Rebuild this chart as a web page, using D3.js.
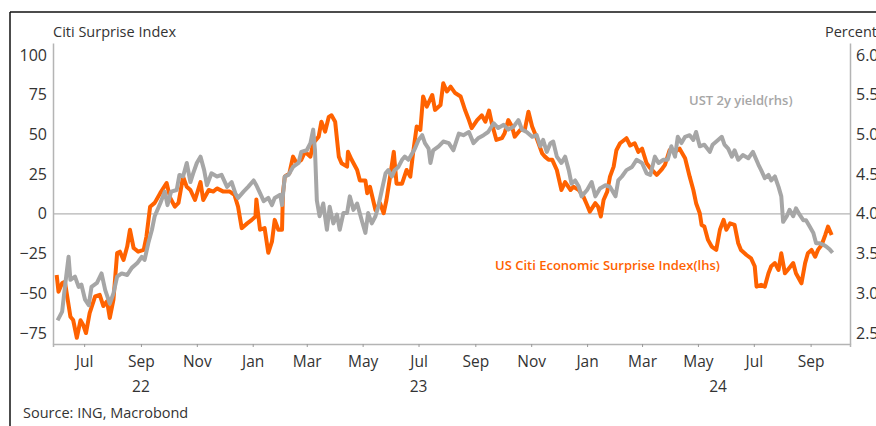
<!DOCTYPE html>
<html>
<head>
<meta charset="utf-8">
<script src="https://cdn.jsdelivr.net/npm/d3@7"></script>
<style>
  body { margin: 0; background: #fff; }
  #chart { width: 876px; height: 426px; }
  text { font-family: "Open Sans", "Noto Sans", sans-serif; fill: #333; }
</style>
</head>
<body>
<div id="chart"></div>
<script>
// US Citi Economic Surprise Index (lhs)
const citiDates = ["2022-06-01","2022-06-03","2022-06-07","2022-06-10","2022-06-16","2022-06-19","2022-06-23","2022-06-27","2022-06-30","2022-07-03",
  "2022-07-07","2022-07-13","2022-07-18","2022-07-22","2022-07-26","2022-07-29","2022-08-02","2022-08-06","2022-08-09","2022-08-13",
  "2022-08-17","2022-08-20","2022-08-24","2022-08-29","2022-09-04","2022-09-07","2022-09-11","2022-09-16","2022-09-22","2022-09-29",
  "2022-10-03","2022-10-08","2022-10-12","2022-10-17","2022-10-21","2022-10-25","2022-10-30","2022-11-05","2022-11-08","2022-11-14",
  "2022-11-19","2022-11-23","2022-11-30","2022-12-07","2022-12-12","2022-12-16","2022-12-20","2022-12-26","2022-12-31","2023-01-04",
  "2023-01-05","2023-01-09","2023-01-14","2023-01-18","2023-01-22","2023-01-25","2023-01-29","2023-02-02","2023-02-03","2023-02-05",
  "2023-02-10","2023-02-14","2023-02-18","2023-02-23","2023-02-27","2023-03-05","2023-03-08","2023-03-14","2023-03-17","2023-03-21",
  "2023-03-25","2023-03-28","2023-04-01","2023-04-05","2023-04-08","2023-04-14","2023-04-15","2023-04-19","2023-04-25","2023-04-28",
  "2023-05-04","2023-05-06","2023-05-09","2023-05-15","2023-05-20","2023-05-24","2023-05-27","2023-05-31","2023-06-04","2023-06-07",
  "2023-06-13","2023-06-18","2023-06-22","2023-06-25","2023-06-29","2023-07-03","2023-07-06","2023-07-10","2023-07-16","2023-07-19",
  "2023-07-25","2023-07-28","2023-08-01","2023-08-05","2023-08-10","2023-08-16","2023-08-21","2023-08-25","2023-08-28","2023-09-03",
  "2023-09-08","2023-09-12","2023-09-16","2023-09-19","2023-09-24","2023-09-30","2023-10-03","2023-10-07","2023-10-11","2023-10-14",
  "2023-10-20","2023-10-25","2023-10-29","2023-11-02","2023-11-05","2023-11-09","2023-11-13","2023-11-16","2023-11-20","2023-11-24",
  "2023-11-29","2023-12-04","2023-12-08","2023-12-14","2023-12-17","2023-12-23","2023-12-28","2024-01-01","2024-01-04","2024-01-10",
  "2024-01-13","2024-01-16","2024-01-19","2024-01-23","2024-01-26","2024-01-30","2024-02-02","2024-02-06","2024-02-13","2024-02-17",
  "2024-02-22","2024-02-26","2024-03-01","2024-03-06","2024-03-10","2024-03-17","2024-03-22","2024-03-26","2024-03-31","2024-04-06",
  "2024-04-11","2024-04-17","2024-04-22","2024-04-26","2024-04-29","2024-05-03","2024-05-05","2024-05-08","2024-05-12","2024-05-16",
  "2024-05-21","2024-05-25","2024-05-29","2024-06-01","2024-06-05","2024-06-10","2024-06-14","2024-06-17","2024-06-23","2024-06-28",
  "2024-07-02","2024-07-04","2024-07-09","2024-07-13","2024-07-17","2024-07-20","2024-07-24","2024-07-28","2024-07-31","2024-08-04",
  "2024-08-07","2024-08-13","2024-08-16","2024-08-22","2024-08-26","2024-08-29","2024-09-02","2024-09-06","2024-09-09","2024-09-13",
  "2024-09-17","2024-09-20","2024-09-24"];
const citiValues = [-38.5,-49,-43.5,-42.7,-64.7,-66.8,-78,-67,-70,-75,
  -62.5,-52,-51,-58,-55,-65.5,-54,-24.7,-23.8,-29,
  -20.6,-10,-21.5,-23.8,-22.7,-14.3,4.5,6.9,13,19.4,
  10,4.5,6.9,23.4,17,15,8.7,20,8.7,15,
  14,16,14,14,12,4.5,-9,-6,-3.8,-1.7,
  9,-10,-9,-24.5,-17.5,-3.8,-10,-10,13,23.4,
  25.5,36,31.8,34,39,36,44.4,48.6,58,51.7,
  61,62,58,36,31.8,29.7,39,34,27.6,21,
  21,13,17,2.4,6.7,0.4,8.7,23.4,39,19,
  19,27.6,23.4,38,55,52.8,73.8,67.5,74.8,65.4,
  68.5,82.2,77,80,76,73.8,65,59,53.9,59,
  62,58,65,57,46.5,47.6,50.7,59,55,48.6,
  52.8,52.8,64.3,55,50.7,44.4,38,36,34,34,
  27.6,15,20,15,17,15,10.8,5.6,1.4,6.7,
  4.5,-1.7,8.7,14,23.4,29.7,40,44.4,47.6,43,
  44.4,39,41,31.8,28.7,24.5,27.6,30.8,40,39,
  41,35,23.4,15,6.7,0.4,-7,-8,-16.4,-20.6,
  -22.7,-10,-3.8,-10,-6,-7,-18.5,-22.7,-25.9,-28,
  -33,-45.8,-44.7,-45.8,-37.4,-33,-31,-35.3,-24.8,-37.4,
  -35.3,-31,-37.4,-43.7,-31,-24.8,-22.7,-27,-22.7,-19.6,
  -13.3,-8,-13.3];

// UST 2y yield, percent (rhs)
const ustDates = ["2022-06-02","2022-06-07","2022-06-10","2022-06-14","2022-06-16","2022-06-21","2022-06-25","2022-06-28","2022-07-02","2022-07-06",
  "2022-07-09","2022-07-15","2022-07-20","2022-07-24","2022-07-29","2022-08-02","2022-08-06","2022-08-11","2022-08-17","2022-08-22",
  "2022-08-28","2022-09-02","2022-09-05","2022-09-09","2022-09-13","2022-09-16","2022-09-22","2022-09-27","2022-09-30","2022-10-04",
  "2022-10-10","2022-10-13","2022-10-17","2022-10-21","2022-10-25","2022-10-28","2022-11-01","2022-11-05","2022-11-09","2022-11-12",
  "2022-11-17","2022-11-23","2022-11-28","2022-12-04","2022-12-09","2022-12-13","2022-12-16","2022-12-22","2022-12-27","2023-01-02",
  "2023-01-05","2023-01-09","2023-01-13","2023-01-18","2023-01-22","2023-01-25","2023-01-31","2023-02-02","2023-02-05","2023-02-09",
  "2023-02-14","2023-02-20","2023-02-23","2023-03-01","2023-03-05","2023-03-08","2023-03-10","2023-03-12","2023-03-15","2023-03-19",
  "2023-03-23","2023-03-26","2023-03-30","2023-04-03","2023-04-06","2023-04-10","2023-04-14","2023-04-17","2023-04-21","2023-04-25",
  "2023-04-30","2023-05-04","2023-05-07","2023-05-11","2023-05-15","2023-05-18","2023-05-22","2023-05-26","2023-05-29","2023-06-02",
  "2023-06-05","2023-06-09","2023-06-13","2023-06-16","2023-06-20","2023-06-24","2023-06-27","2023-07-01","2023-07-05","2023-07-08",
  "2023-07-12","2023-07-14","2023-07-17","2023-07-23","2023-07-28","2023-08-03","2023-08-08","2023-08-14","2023-08-19","2023-08-25",
  "2023-08-30","2023-09-04","2023-09-10","2023-09-15","2023-09-21","2023-09-26","2023-10-02","2023-10-07","2023-10-13","2023-10-18",
  "2023-10-22","2023-10-27","2023-11-02","2023-11-07","2023-11-11","2023-11-14","2023-11-18","2023-11-22","2023-11-25","2023-11-29",
  "2023-12-04","2023-12-08","2023-12-12","2023-12-15","2023-12-19","2023-12-23","2023-12-26","2024-01-01","2024-01-06","2024-01-10",
  "2024-01-15","2024-01-21","2024-01-26","2024-02-01","2024-02-04","2024-02-08","2024-02-13","2024-02-19","2024-02-24","2024-03-01",
  "2024-03-06","2024-03-10","2024-03-15","2024-03-19","2024-03-24","2024-03-29","2024-04-02","2024-04-06","2024-04-09","2024-04-13",
  "2024-04-17","2024-04-22","2024-04-26","2024-04-29","2024-05-03","2024-05-08","2024-05-14","2024-05-17","2024-05-23","2024-05-27",
  "2024-05-30","2024-06-03","2024-06-07","2024-06-10","2024-06-14","2024-06-19","2024-06-25","2024-06-30","2024-07-06","2024-07-09",
  "2024-07-13","2024-07-17","2024-07-20","2024-07-24","2024-07-28","2024-07-31","2024-08-02","2024-08-06","2024-08-09","2024-08-13",
  "2024-08-16","2024-08-20","2024-08-24","2024-08-27","2024-08-31","2024-09-04","2024-09-07","2024-09-11","2024-09-15","2024-09-18",
  "2024-09-22","2024-09-25"];
const ustValues = [2.66,2.77,3.08,3.46,3.17,3.21,3.08,3.11,2.92,2.85,
  3.08,3.13,3.25,3.04,2.87,3.0,3.21,3.25,3.23,3.32,
  3.38,3.46,3.42,3.63,3.8,3.97,4.13,4.28,4.11,4.28,
  4.3,4.49,4.47,4.64,4.4,4.51,4.64,4.72,4.55,4.36,
  4.51,4.47,4.49,4.34,4.4,4.26,4.2,4.28,4.34,4.42,
  4.36,4.26,4.16,4.2,4.11,4.2,4.24,4.11,4.47,4.49,
  4.59,4.64,4.78,4.8,4.89,5.06,4.8,4.17,3.97,4.13,
  3.8,4.09,3.88,3.99,3.8,4.01,4.01,4.22,4.05,4.13,
  3.92,3.76,4.01,3.88,3.97,4.09,4.3,4.51,4.55,4.47,
  4.55,4.59,4.68,4.72,4.68,4.76,4.82,4.93,4.99,4.89,
  4.82,4.64,4.8,4.85,4.91,4.89,4.8,5.01,4.99,5.03,
  4.89,4.95,4.99,5.03,5.14,5.08,5.12,5.06,5.1,5.18,
  5.06,5.03,4.97,4.99,4.85,4.93,4.78,4.89,4.91,4.72,
  4.64,4.72,4.55,4.38,4.42,4.34,4.22,4.3,4.4,4.22,
  4.32,4.36,4.34,4.22,4.42,4.47,4.55,4.59,4.68,4.64,
  4.51,4.49,4.72,4.64,4.68,4.68,4.85,4.72,4.97,4.89,
  4.97,4.99,4.93,5.03,4.85,4.87,4.78,4.87,4.93,4.97,
  4.87,4.82,4.72,4.8,4.68,4.74,4.7,4.78,4.62,4.55,
  4.45,4.49,4.42,4.47,4.34,4.22,3.9,3.97,4.05,3.97,
  4.07,3.99,3.92,3.92,3.84,3.76,3.63,3.63,3.61,3.59,
  3.55,3.51];

const leftTicks = [-75, -50, -25, 0, 25, 50, 75, 100];
const rightTicks = [2.5, 3.0, 3.5, 4.0, 4.5, 5.0, 5.5, 6.0];
const yearLabels = [["2022-09-01", "22"], ["2023-07-01", "23"], ["2024-05-23", "24"]];

const parse = d3.timeParse("%Y-%m-%d");
const citi = citiDates.map((d, i) => ({date: parse(d), value: citiValues[i]}));
const ust = ustDates.map((d, i) => ({date: parse(d), value: ustValues[i]}));

const W = 876, H = 426;
const margin = {top: 43, right: 26, bottom: 82, left: 53};

const svg = d3.select("#chart").append("svg")
    .attr("width", W)
    .attr("height", H);

// frame lines (top and left)
svg.append("line").attr("x1", 10).attr("x2", W).attr("y1", 12).attr("y2", 12)
    .attr("stroke", "#111").attr("stroke-width", 1.5);
svg.append("line").attr("x1", 10).attr("x2", 10).attr("y1", 12).attr("y2", H)
    .attr("stroke", "#111").attr("stroke-width", 1.5);

const x = d3.scaleTime()
    .domain([parse("2022-05-28"), parse("2024-10-14")])
    .range([margin.left, W - margin.right]);

// lhs: -81.9 .. 107.5, rhs is lhs/50 + 4
const yL = d3.scaleLinear().domain([-81.9, 107.5]).range([H - margin.bottom, margin.top]);
const yR = d3.scaleLinear().domain([4 - 81.9 / 50, 4 + 107.5 / 50]).range([H - margin.bottom, margin.top]);

const axisColor = "#b4b4b4";
const plotBottom = H - margin.bottom;

// zero line
svg.append("line")
    .attr("x1", margin.left).attr("x2", W - margin.right)
    .attr("y1", yL(0)).attr("y2", yL(0))
    .attr("stroke", axisColor).attr("stroke-width", 1.2);

// left axis
const gL = svg.append("g")
    .attr("transform", `translate(${margin.left},0)`)
    .call(d3.axisLeft(yL).tickValues(leftTicks).tickSize(0).tickPadding(6));
gL.select(".domain").attr("stroke", axisColor).attr("stroke-width", 1.5);
gL.selectAll("text").attr("font-size", 16).attr("fill", "#333");

// right axis
const gR = svg.append("g")
    .attr("transform", `translate(${W - margin.right},0)`)
    .call(d3.axisRight(yR).tickValues(rightTicks).tickFormat(d3.format(".1f")).tickSize(0).tickPadding(6));
gR.select(".domain").attr("stroke", axisColor).attr("stroke-width", 1.5);
gR.selectAll("text").attr("font-size", 16).attr("fill", "#333");

// bottom axis
const gX = svg.append("g")
    .attr("transform", `translate(0,${plotBottom})`)
    .call(d3.axisBottom(x)
        .ticks(d3.timeMonth.every(2))
        .tickFormat(d3.timeFormat("%b"))
        .tickSize(3)
        .tickPadding(9));
gX.select(".domain").attr("stroke", axisColor).attr("stroke-width", 1.5);
gX.selectAll(".tick line").attr("stroke", "#999");
gX.selectAll("text").attr("font-size", 15.5).attr("fill", "#333");

svg.selectAll(".year-label")
    .data(yearLabels)
    .enter()
    .append("text")
    .attr("class", "year-label")
    .attr("x", d => x(parse(d[0])))
    .attr("y", 392)
    .attr("text-anchor", "middle")
    .attr("font-size", 15.5)
    .text(d => d[1]);

// lines
const lineL = d3.line().x(d => x(d.date)).y(d => yL(d.value));
const lineR = d3.line().x(d => x(d.date)).y(d => yR(d.value));

svg.append("path")
    .datum(citi)
    .attr("fill", "none")
    .attr("stroke", "#ff6200")
    .attr("stroke-width", 4)
    .attr("stroke-linejoin", "round")
    .attr("d", lineL);

svg.append("path")
    .datum(ust)
    .attr("fill", "none")
    .attr("stroke", "#a6a6a6")
    .attr("stroke-width", 4)
    .attr("stroke-linejoin", "round")
    .attr("d", lineR);

// titles
svg.append("text")
    .attr("x", margin.left)
    .attr("y", 37)
    .attr("font-size", 14.5)
    .text("Citi Surprise Index");

svg.append("text")
    .attr("x", 825)
    .attr("y", 37)
    .attr("font-size", 14.5)
    .text("Percent");

// series labels
svg.append("text")
    .attr("x", 689)
    .attr("y", 105)
    .attr("font-size", 13)
    .attr("font-weight", 600)
    .style("fill", "#a6a6a6")
    .text("UST 2y yield(rhs)");

svg.append("text")
    .attr("x", 495)
    .attr("y", 270)
    .attr("font-size", 13)
    .attr("font-weight", 600)
    .style("fill", "#ff6200")
    .text("US Citi Economic Surprise Index(lhs)");

svg.append("text")
    .attr("x", 23)
    .attr("y", 418)
    .attr("font-size", 14.5)
    .text("Source: ING, Macrobond");
</script>
</body>
</html>
